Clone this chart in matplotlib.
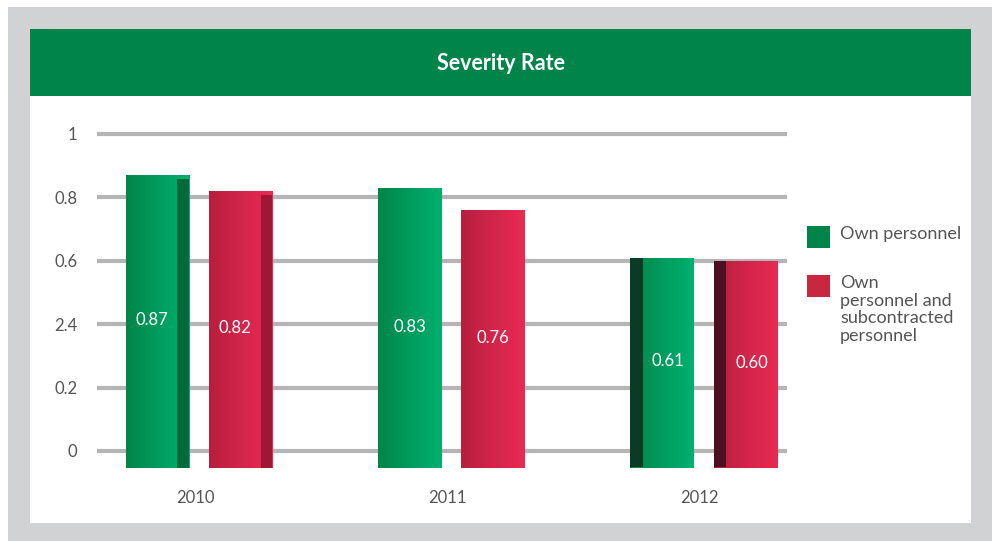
import matplotlib.pyplot as plt
import numpy as np
from matplotlib.patches import Rectangle
from matplotlib.colors import LinearSegmentedColormap

# data
years = ['2010', '2011', '2012']
own = [0.87, 0.83, 0.61]
own_sub = [0.82, 0.76, 0.60]
series_names = ['Own personnel', 'Own\npersonnel and\nsubcontracted\npersonnel']
ytick_vals = [0, 0.2, 0.4, 0.6, 0.8, 1.0]
ytick_labels = ['0', '0.2', '2.4', '0.6', '0.8', '1']   # "2.4" as printed in the original

plt.rcParams['font.family'] = ['Lato', 'DejaVu Sans']

green_cmap = LinearSegmentedColormap.from_list('g', ['#008548', '#009C5E', '#00B06F'])
red_cmap = LinearSegmentedColormap.from_list('r', ['#B81E3E', '#D2254A', '#E92A52'])
side_cols = {'g': ['#006A3C', '#0B3A26'], 'r': ['#9E1834', '#4A1020']}
txt_col = '#555555'

fig = plt.figure(figsize=(9.99, 5.41), dpi=100)
fig.patch.set_facecolor('white')
# grey frame, white panel, green header
fig.patches.append(Rectangle((8 / 999, 0), 984 / 999, 534 / 541, transform=fig.transFigure,
                             facecolor='#D1D2D4', edgecolor='none', zorder=-3))
fig.patches.append(Rectangle((30 / 999, 18 / 541), 941 / 999, 494 / 541, transform=fig.transFigure,
                             facecolor='white', edgecolor='none', zorder=-2))
fig.patches.append(Rectangle((30 / 999, 445 / 541), 941 / 999, 67 / 541, transform=fig.transFigure,
                             facecolor='#00844A', edgecolor='none', zorder=-1))
fig.text(501 / 999, 478 / 541, 'Severity Rate', color='white', fontsize=15.5,
         fontweight='bold', ha='center', va='center')

ax = fig.add_axes([97 / 999, 0.1283, 690 / 999, 0.6299])
ax.set_facecolor('none')
x = np.arange(len(years))
w = 0.25
base = -0.055
off = [-0.15, 0.18]
side = [0.045, 0.0, -0.05]   # dark side face (right for 2010, left for 2012)

for vals, o, cmap, key in [(own, off[0], green_cmap, 'g'), (own_sub, off[1], red_cmap, 'r')]:
    bars = ax.bar(x + o, np.array(vals) - base, bottom=base, width=w,
                  color=cmap(0.5), edgecolor='none', zorder=3)
    grad = np.linspace(0, 1, 100).reshape(1, -1)
    for i, b in enumerate(bars):
        x0, x1 = b.get_x(), b.get_x() + b.get_width()
        im = ax.imshow(grad, extent=[x0, x1, base, vals[i]], aspect='auto', cmap=cmap,
                       zorder=4)
        im.set_clip_path(b)
        if side[i] > 0:
            ax.bar(x1 - side[i], vals[i] - base - 0.012, bottom=base, width=side[i], align='edge',
                   color=side_cols[key][0], edgecolor='none', zorder=5)
        elif side[i] < 0:
            ax.bar(x0, vals[i] - base - 0.004, bottom=base + 0.004, width=-side[i], align='edge',
                   color=side_cols[key][1], edgecolor='none', zorder=5)
        xc = x0 + w / 2 - side[i] / 2
        ax.text(xc, (vals[i] + base) / 2 + 0.005, f'{vals[i]:.2f}', color='white',
                fontsize=12, ha='center', va='center', zorder=6)

ax.set_xlim(-0.388, 2.345)
ax.set_ylim(-0.065, 1.01)
ax.set_yticks(ytick_vals)
ax.set_yticklabels(ytick_labels)
ax.set_xticks(x)
ax.set_xticklabels(years)
ax.tick_params(axis='y', length=0, pad=14, labelsize=12, labelcolor=txt_col)
ax.tick_params(axis='x', length=0, pad=13, labelsize=12, labelcolor=txt_col)
ax.grid(axis='y', color='#B5B5B5', linewidth=3, zorder=1)
ax.set_axisbelow(True)
for s in ax.spines.values():
    s.set_visible(False)

# legend
leg_cols = ['#00844A', '#C8273F']
leg_y = [237, 286]
for c, yy, name in zip(leg_cols, leg_y, series_names):
    fig.patches.append(Rectangle((807 / 999, (541 - yy - 11) / 541), 23 / 999, 22 / 541,
                                 transform=fig.transFigure, facecolor=c, edgecolor='none'))
    fig.text(840 / 999, (541 - yy + 11) / 541, name, fontsize=13, color=txt_col,
             ha='left', va='top', linespacing=1.12)

fig.savefig('out.png', dpi=100, facecolor=fig.get_facecolor())
